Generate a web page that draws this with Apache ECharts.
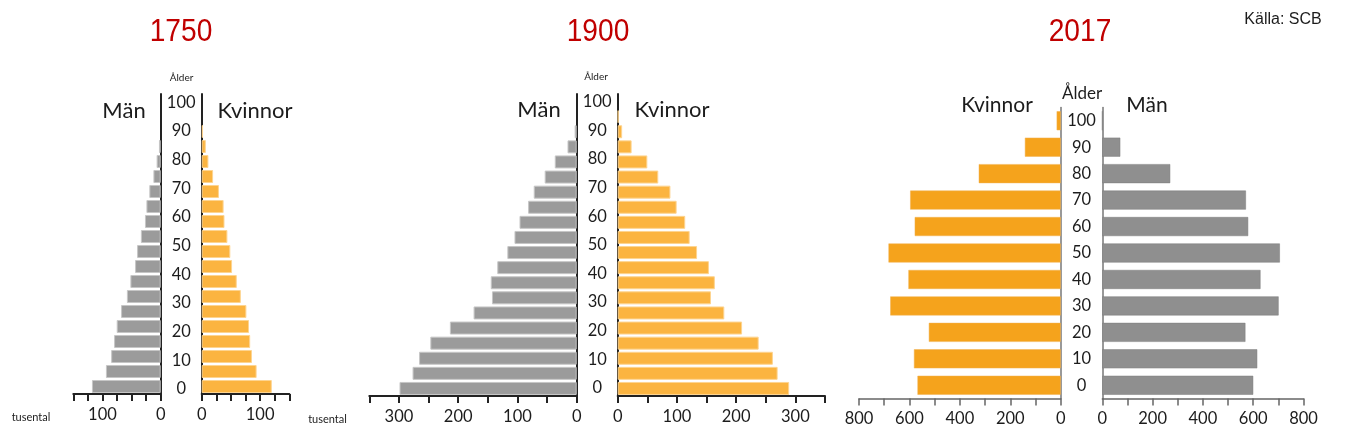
<!DOCTYPE html>
<html>
<head>
<meta charset="utf-8">
<script src="https://cdn.jsdelivr.net/npm/echarts@6/dist/echarts.min.js"></script>
<style>
html,body{margin:0;padding:0;background:#fff;}
#chart{width:1346px;height:432px;}
</style>
</head>
<body>
<div id="chart"></div>
<script>
// ---- data ----
const ageGroups5 = ['0','5','10','15','20','25','30','35','40','45','50','55','60','65','70','75','80','85','90','95'];
const ageTicks5 = ['0','5','10','15','20','25','30','35','40','45','50','55','60','65','70','75','80','85','90','95','100'];
const ageGroups10 = ['0','10','20','30','40','50','60','70','80','90','100'];

const men1750   = [118, 94, 85, 80, 75.5, 68, 58, 52, 44, 40.5, 34, 27, 24.5, 19.5, 12.5, 7, 3];
const women1750 = [120, 94, 86, 83, 81, 76.5, 67, 60, 52, 49, 44, 39, 37.5, 29.5, 19.5, 11.5, 7, 2.3];

const men1900   = [299, 277, 266, 247, 214, 174, 143, 145, 134, 117, 105, 96.5, 82, 72.5, 54, 37, 15.5, 3.5];
const women1900 = [289.5, 270, 262, 238, 210, 180, 157.5, 164, 154, 134, 121.5, 114, 99.5, 89, 68.5, 50, 23.5, 7.5, 1.5];

const women2017 = [568, 582, 523, 676, 604, 683, 579, 597, 325, 142, 16];
const men2017   = [600, 616, 569, 701, 629, 706, 580, 571, 270, 71.5, 0];

const tickLabels1750 = [0, 100];
const tickLabels1900 = [0, 100, 200, 300];
const tickLabels2017 = [0, 200, 400, 600, 800];

// ---- styles ----
const FONT = 'Lato, "Open Sans", sans-serif';
const DARK = '#1c1c1c';
const grayOld = {color:'#9b9b9b', borderColor:'#c6c6c6', borderWidth:1};
const orangeOld = {color:'#fbb440', borderColor:'#fdd490', borderWidth:1};
const gray2017 = {color:'#8f8f8f', borderColor:'#7d7d7d', borderWidth:0.5};
const orange2017 = {color:'#f5a31c', borderColor:'#f0b050', borderWidth:0.5};

const grids = [
  {left:73.3,  top:94,    width:87.4,  height:300},   // 0 1750 men
  {left:201.7, top:94,    width:87.6,  height:300},   // 1 1750 women
  {left:191.2, top:95.1,  width:1,     height:301.1}, // 2 1750 labels
  {left:369.3, top:94,    width:207.4, height:302},   // 3 1900 men
  {left:617.7, top:94,    width:207.3, height:302},   // 4 1900 women
  {left:607.2, top:94.5,  width:1,     height:300.7}, // 5 1900 labels
  {left:859,   top:107.5, width:201.7, height:291},   // 6 2017 women
  {left:1102.3,top:107.5, width:201.2, height:291},   // 7 2017 men
  {left:1091.5,top:107.5, width:1,     height:291}    // 8 2017 labels
];

function valAxis(gi, max, interval, inverse, shown, old) {
  const col = old ? '#222' : '#666';
  const w = old ? 2 : 1.5;
  return {
    type:'value', gridIndex:gi, min:0, max:max, interval:interval, inverse:inverse,
    position:'bottom',
    axisLine:{show:true, onZero:false, lineStyle:{color:col, width:w}},
    axisTick:{show:true, length:7, lineStyle:{color:col, width:w}},
    splitLine:{show:false},
    axisLabel:{show:true, margin:12, color:DARK, fontFamily:FONT, fontSize:16.5,
      formatter:v => shown.indexOf(v) >= 0 ? String(v) : ''}
  };
}
function catAxis(gi, data, pos, old) {
  return {
    type:'category', gridIndex:gi, data:data, position:pos,
    axisLine:{show:true, lineStyle:{color: old ? '#222' : '#777', width: old ? 2 : 1.5}},
    axisTick:{show:false}, axisLabel:{show:false}, splitLine:{show:false}
  };
}
function labelAxis(gi, data, interval, fontSize) {
  return {
    type:'category', gridIndex:gi, data:data, position:'left',
    axisLine:{show:false}, axisTick:{show:false}, splitLine:{show:false},
    axisLabel:{show:true, interval:interval, align:'center', margin:10,
      color:DARK, fontFamily:FONT, fontSize:fontSize}
  };
}
function hiddenX(gi){ return {type:'value', gridIndex:gi, show:false}; }

const xAxes = [
  valAxis(0, 150, 25, true,  tickLabels1750, true),
  valAxis(1, 150, 25, false, tickLabels1750, true),
  hiddenX(2),
  valAxis(3, 350, 50, true,  tickLabels1900, true),
  valAxis(4, 350, 50, false, tickLabels1900, true),
  hiddenX(5),
  valAxis(6, 800, 100, true,  tickLabels2017, false),
  valAxis(7, 800, 100, false, tickLabels2017, false),
  hiddenX(8)
];
const yAxes = [
  catAxis(0, ageGroups5, 'right', true),
  catAxis(1, ageGroups5, 'left', true),
  labelAxis(2, ageTicks5, 1, 16.5),
  catAxis(3, ageGroups5, 'right', true),
  catAxis(4, ageGroups5, 'left', true),
  labelAxis(5, ageTicks5, 1, 16.5),
  catAxis(6, ageGroups10, 'right', false),
  catAxis(7, ageGroups10, 'left', false),
  labelAxis(8, ageGroups10, 0, 16.5)
];

function bar(xi, data, style, width) {
  return {type:'bar', xAxisIndex:xi, yAxisIndex:xi, data:data, barWidth:width,
    itemStyle:style, silent:true, animation:false};
}
const series = [
  bar(0, men1750, grayOld, 13),
  bar(1, women1750, orangeOld, 13),
  bar(3, men1900, grayOld, 13),
  bar(4, women1900, orangeOld, 13),
  bar(6, women2017, orange2017, 19),
  bar(7, men2017, gray2017, 19)
];

function txt(x, y, s, size, opts) {
  opts = opts || {};
  return {type:'text', x:x, y:y, scaleX: opts.scaleX || 1, silent:true,
    style:{text:s, textAlign:'center', textVerticalAlign:'middle',
      fill: opts.fill || DARK,
      font: size + 'px ' + (opts.family || FONT)}};
}
const TITLE_FONT = '"Liberation Sans", Arial, sans-serif';
const graphics = [
  txt(181, 32, '1750', 32, {fill:'#c00000', family:TITLE_FONT, scaleX:0.88}),
  txt(598, 32, '1900', 32, {fill:'#c00000', family:TITLE_FONT, scaleX:0.88}),
  txt(1080, 32, '2017', 32, {fill:'#c00000', family:TITLE_FONT, scaleX:0.88}),
  txt(1283, 20, 'Källa: SCB', 16, {family:TITLE_FONT}),
  txt(181.5, 78, 'Ålder', 10),
  txt(596, 77, 'Ålder', 10),
  txt(1082, 94, 'Ålder', 17),
  txt(124, 111, 'Män', 22),
  txt(255, 111, 'Kvinnor', 22),
  txt(539, 110, 'Män', 22),
  txt(672, 110, 'Kvinnor', 22),
  txt(997, 105, 'Kvinnor', 21),
  txt(1147, 105, 'Män', 21),
  txt(31, 417, 'tusental', 11),
  txt(327.5, 419, 'tusental', 11)
];

const chart = echarts.init(document.getElementById('chart'), null, {renderer:'canvas'});
chart.setOption({
  animation:false,
  backgroundColor:'#fff',
  grid:grids,
  xAxis:xAxes,
  yAxis:yAxes,
  series:series,
  graphic:graphics
});
</script>
</body>
</html>
